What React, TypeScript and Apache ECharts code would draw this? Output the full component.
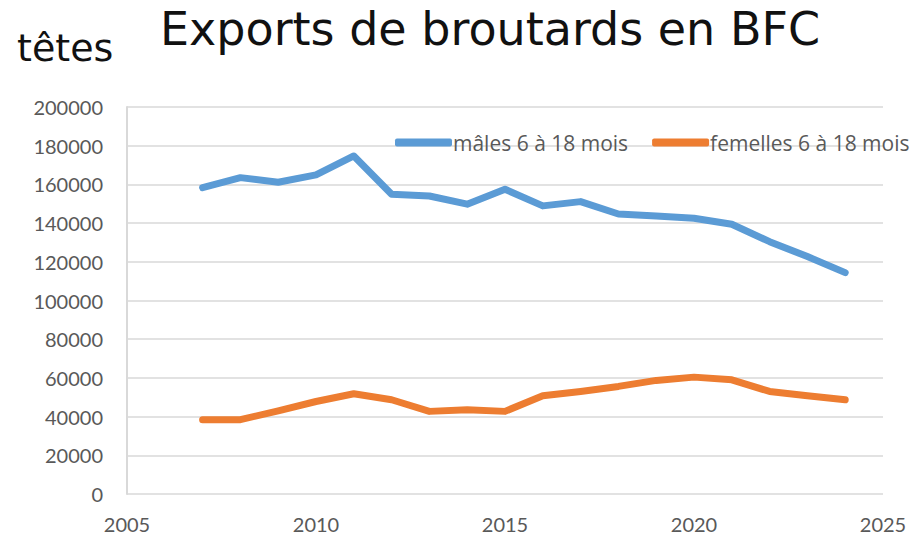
import React, { useEffect, useRef } from "react";
import * as echarts from "echarts";

const years = [2007, 2008, 2009, 2010, 2011, 2012, 2013, 2014, 2015, 2016, 2017, 2018, 2019, 2020, 2021, 2022, 2023, 2024];
const males = [158300, 163500, 161100, 164900, 174700, 154900, 154000, 149800, 157500, 148900, 151100, 144700, 143700, 142500, 139400, 130400, 122700, 114400];
const femelles = [38400, 38400, 43000, 47800, 51800, 48700, 42700, 43500, 42700, 50800, 53000, 55600, 58700, 60400, 59000, 53000, 50800, 48700];
const seriesNames = ["mâles 6 à 18 mois", "femelles 6 à 18 mois"];
const titleText = "Exports de broutards en BFC";
const unitText = "têtes";

export default function App() {
  const ref = useRef<HTMLDivElement>(null);
  useEffect(() => {
    if (!ref.current) return;
    const chart = echarts.init(ref.current, undefined, { renderer: "svg" });
    const labelFont = "Lato, 'Open Sans', sans-serif";
    chart.setOption({
      animation: false,
      backgroundColor: "#ffffff",
      title: {
        text: titleText,
        left: 485,
        textAlign: "center",
        top: 1,
        textStyle: { fontFamily: "'DejaVu Sans', sans-serif", fontSize: 46, fontWeight: "normal", color: "#111111" },
      },
      graphic: [
        {
          type: "text",
          left: 17,
          top: 29,
          style: { text: unitText, fontFamily: "'DejaVu Sans', sans-serif", fontSize: 38, fill: "#111111" },
        },
      ],
      legend: {
        left: 390,
        top: 127,
        itemWidth: 57,
        itemHeight: 8,
        itemGap: 24,
        icon: "roundRect",
        textStyle: { fontFamily: "'Open Sans', sans-serif", fontSize: 21, color: "#595959", padding: [0, 0, 0, -4] },
        data: seriesNames,
      },
      grid: { left: 127, right: 34, top: 107, bottom: 47 },
      xAxis: {
        type: "value",
        min: 2005,
        max: 2025,
        interval: 5,
        axisLine: { show: false },
        axisTick: { show: false },
        splitLine: { show: false },
        axisLabel: { fontFamily: labelFont, fontSize: 20, color: "#595959", margin: 20, formatter: (v: number) => String(v) },
      },
      yAxis: {
        type: "value",
        min: 0,
        max: 200000,
        interval: 20000,
        axisLine: { show: true, lineStyle: { color: "#d9d9d9", width: 2 } },
        axisTick: { show: false },
        splitLine: { show: true, lineStyle: { color: "#d9d9d9", width: 1.5 } },
        axisLabel: { fontFamily: labelFont, fontSize: 20, color: "#595959", margin: 24, formatter: (v: number) => String(v) },
      },
      series: [
        {
          name: seriesNames[0],
          type: "line",
          data: years.map((y, i) => [y, males[i]]),
          showSymbol: false,
          symbol: "none",
          lineStyle: { color: "#5b9bd5", width: 7, cap: "round", join: "round" },
          itemStyle: { color: "#5b9bd5" },
        },
        {
          name: seriesNames[1],
          type: "line",
          data: years.map((y, i) => [y, femelles[i]]),
          showSymbol: false,
          symbol: "none",
          lineStyle: { color: "#ed7d31", width: 7, cap: "round", join: "round" },
          itemStyle: { color: "#ed7d31" },
        },
      ],
    });
    return () => chart.dispose();
  }, []);
  return <div ref={ref} style={{ width: 917, height: 541, position: "absolute", left: 0, top: 0 }} />;
}
